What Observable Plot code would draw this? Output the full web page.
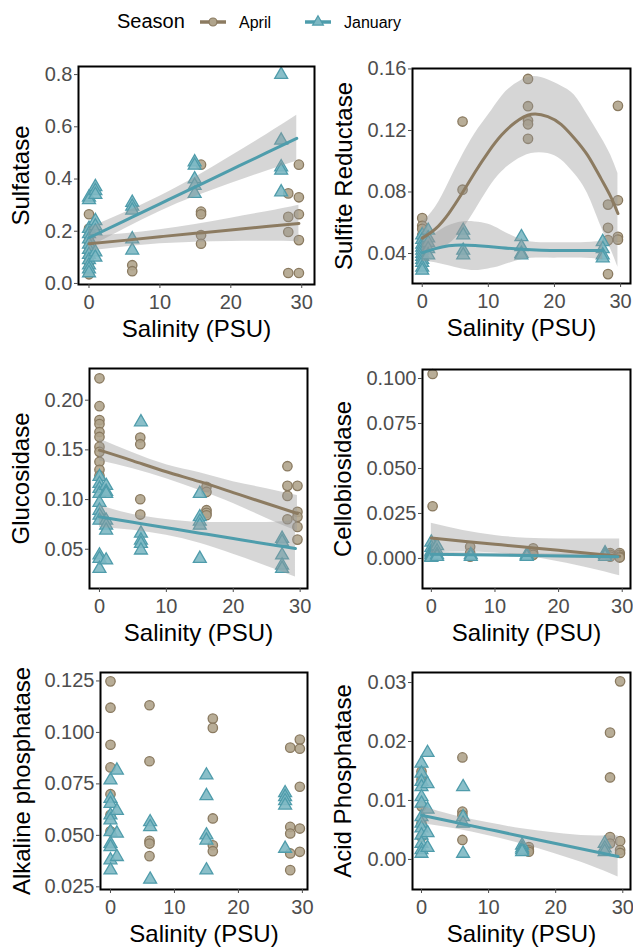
<!DOCTYPE html>
<html>
<head>
<meta charset="utf-8">
<script src="https://cdn.jsdelivr.net/npm/d3@7"></script>
<script src="https://cdn.jsdelivr.net/npm/@observablehq/plot@0.6"></script>
<style>
  body { margin: 0; background: #fff; }
  #chart { position: relative; width: 633px; height: 949px; background: #fff;
           font-family: "Liberation Sans", Arial, sans-serif; }
  #chart > div { position: absolute; }
</style>
</head>
<body>
<div id="chart"></div>
<script>
// ---- Seasons and colours ----
const seasons = ["April", "January"];
const aprilStroke = "#8A7A60", aprilFill = "#B0A48C", aprilLine = "#8C7B61";
const janStroke = "#4F9CAB", janFill = "#7DB8C3", janLine = "#4E9DAC";

// ---- Axis ticks ----
const salinityTicks = [0, 10, 20, 30];
const sulfataseTicks = [0, 0.2, 0.4, 0.6, 0.8];
const sulfiteTicks = [0.04, 0.08, 0.12, 0.16];
const glucosidaseTicks = [0.05, 0.10, 0.15, 0.20];
const cellobiosidaseTicks = [0, 0.025, 0.05, 0.075, 0.1];
const alkalineTicks = [0.025, 0.05, 0.075, 0.1, 0.125];
const acidTicks = [0, 0.01, 0.02, 0.03];

// ---- Measurements: [salinity, [activities...]] ----
const sulfataseApril = [
  [0, [0.265, 0.21, 0.18, 0.16, 0.14, 0.12, 0.10, 0.08, 0.06, 0.035]],
  [6.1, [0.07, 0.047]],
  [15.8, [0.455, 0.275, 0.265, 0.185, 0.152]],
  [28.1, [0.345, 0.255, 0.197, 0.04]],
  [29.6, [0.455, 0.33, 0.265, 0.166, 0.04]]
];
const sulfataseJanuary = [
  [0, [0.33, 0.32, 0.21, 0.19, 0.17, 0.15, 0.13, 0.11, 0.09, 0.07, 0.055, 0.04]],
  [0.9, [0.37, 0.355, 0.34, 0.24, 0.22, 0.20, 0.12, 0.10]],
  [6.1, [0.31, 0.295, 0.28, 0.17, 0.127]],
  [14.9, [0.465, 0.452, 0.40, 0.375, 0.344]],
  [27.1, [0.80, 0.548, 0.446, 0.433, 0.35]]
];
const sulfiteApril = [
  [0, [0.063, 0.058, 0.056, 0.052, 0.048]],
  [6.1, [0.1258, 0.0815]],
  [16, [0.1535, 0.1358, 0.1265, 0.124, 0.1146]],
  [28.1, [0.0718, 0.0567, 0.0487, 0.0266]],
  [29.6, [0.136, 0.0746, 0.0508, 0.049]]
];
const sulfiteJanuary = [
  [0, [0.052, 0.049, 0.046, 0.044, 0.042, 0.040, 0.038, 0.036, 0.034, 0.031, 0.029]],
  [0.9, [0.055, 0.05, 0.047, 0.043, 0.039]],
  [6.2, [0.055, 0.052, 0.042, 0.039]],
  [15, [0.0508, 0.0443, 0.040, 0.039]],
  [27.3, [0.0476, 0.043, 0.039, 0.037]]
];
const glucosidaseApril = [
  [0, [0.222, 0.194, 0.18, 0.176, 0.168, 0.163, 0.153, 0.148, 0.138, 0.13, 0.124]],
  [6.1, [0.1624, 0.1557, 0.1003, 0.0849]],
  [16, [0.1128, 0.1077, 0.0893, 0.0866, 0.0842]],
  [28.1, [0.1336, 0.1138, 0.1037, 0.0802]],
  [29.6, [0.1138, 0.0876, 0.0826, 0.0725, 0.0597]]
];
const glucosidaseJanuary = [
  [0, [0.123, 0.116, 0.111, 0.106, 0.097, 0.089, 0.084, 0.079, 0.044, 0.0406, 0.0305]],
  [1, [0.114, 0.108, 0.106, 0.079, 0.074, 0.069, 0.039]],
  [6.2, [0.178, 0.066, 0.059, 0.0557, 0.049]],
  [15, [0.106, 0.0825, 0.078, 0.074, 0.0406]],
  [27.3, [0.0607, 0.0574, 0.044, 0.0339, 0.0305]]
];
const cellobiosidaseApril = [
  [0.2, [0.1025, 0.029, 0.008, 0.005, 0.003, 0.002]],
  [6.1, [0.0065, 0.003, 0.001]],
  [16, [0.0056, 0.003, 0.002]],
  [28.1, [0.003, 0.002, 0.001]],
  [29.6, [0.003, 0.002, 0.001, 0.0005]]
];
const cellobiosidaseJanuary = [
  [0, [0.009, 0.006, 0.004, 0.003, 0.002, 0.001, 0.0005]],
  [0.9, [0.007, 0.004, 0.002, 0.001]],
  [6.2, [0.002, 0.001]],
  [15, [0.002, 0.0015, 0.001]],
  [27.3, [0.003, 0.002, 0.001]]
];
const alkalineApril = [
  [0, [0.1248, 0.112, 0.094, 0.083, 0.070, 0.060, 0.052]],
  [6.1, [0.1132, 0.086, 0.0473, 0.046, 0.0399]],
  [16, [0.1067, 0.1022, 0.0582, 0.0452, 0.0423]],
  [28.1, [0.0926, 0.0541, 0.0509, 0.0412, 0.0331]],
  [29.6, [0.0965, 0.0921, 0.0736, 0.0533, 0.042]]
];
const alkalineJanuary = [
  [0, [0.0768, 0.0679, 0.0654, 0.0598, 0.0574, 0.0517, 0.046, 0.0444, 0.038, 0.0331]],
  [1, [0.0816, 0.062, 0.051, 0.0396]],
  [6.2, [0.0565, 0.0541, 0.0286]],
  [15, [0.0792, 0.0692, 0.0501, 0.0476, 0.0331]],
  [27.3, [0.0706, 0.0687, 0.0667, 0.0646, 0.0436]]
];
const acidApril = [
  [0, [0.0149, 0.0135, 0.009, 0.0061, 0.0038]],
  [6.1, [0.0173, 0.0081, 0.0075, 0.0033]],
  [16, [0.0021, 0.0016, 0.0013]],
  [28.1, [0.0215, 0.0139, 0.0038, 0.0027]],
  [29.6, [0.0302, 0.0031, 0.0016, 0.0011]]
];
const acidJanuary = [
  [0, [0.0163, 0.0146, 0.0132, 0.0123, 0.0106, 0.0095, 0.0072, 0.0061, 0.0053, 0.0041, 0.0027, 0.0016, 0.001]],
  [0.9, [0.0181, 0.0128, 0.0085, 0.0045, 0.002]],
  [6.2, [0.0123, 0.0072, 0.0061, 0.001]],
  [15, [0.0024, 0.0019, 0.0016, 0.0013]],
  [27.3, [0.0027, 0.0019, 0.0013]]
];

// ---- Smoothers: [salinity, fit, lower 95%, upper 95%] ----
const sulfataseAprilFit = [
  [0, 0.152, 0.124, 0.180], [5, 0.165, 0.140, 0.190], [10, 0.179, 0.152, 0.206],
  [15, 0.192, 0.158, 0.226], [20, 0.205, 0.161, 0.250], [25, 0.218, 0.162, 0.275],
  [29.6, 0.230, 0.160, 0.300]
];
const sulfataseJanuaryFit = [
  [0, 0.175, 0.138, 0.212], [5, 0.240, 0.209, 0.271], [10, 0.305, 0.276, 0.334],
  [15, 0.370, 0.333, 0.407], [20, 0.435, 0.383, 0.487], [25, 0.500, 0.430, 0.570],
  [29.3, 0.556, 0.468, 0.644]
];
const sulfiteAprilFit = [
  [0, 0.050, 0.040, 0.060], [2, 0.056, 0.042, 0.070], [4, 0.066, 0.046, 0.086],
  [6, 0.079, 0.055, 0.103], [8, 0.093, 0.068, 0.118], [10, 0.106, 0.082, 0.130],
  [12, 0.117, 0.093, 0.142], [14, 0.125, 0.100, 0.150], [16.5, 0.1305, 0.105, 0.155],
  [19, 0.129, 0.105, 0.153], [21, 0.124, 0.101, 0.149], [23, 0.115, 0.092, 0.143],
  [25, 0.104, 0.079, 0.130], [27, 0.089, 0.058, 0.116], [28.5, 0.077, 0.043, 0.104],
  [29.6, 0.066, 0.031, 0.092]
];
const sulfiteJanuaryFit = [
  [0, 0.0405, 0.035, 0.046], [2, 0.0432, 0.034, 0.053], [4, 0.0450, 0.032, 0.058],
  [6, 0.0456, 0.030, 0.0605], [8, 0.0452, 0.029, 0.0605], [10, 0.0445, 0.030, 0.059],
  [12, 0.0437, 0.032, 0.055], [15, 0.0427, 0.036, 0.049], [18, 0.0421, 0.037, 0.047],
  [21, 0.0419, 0.037, 0.047], [24, 0.0419, 0.037, 0.047], [27.3, 0.0420, 0.036, 0.048]
];
const glucosidaseAprilFit = [
  [0, 0.1497, 0.139, 0.161], [5, 0.139, 0.131, 0.147], [10, 0.128, 0.121, 0.135],
  [15, 0.118, 0.109, 0.127], [20, 0.107, 0.096, 0.118], [25, 0.096, 0.081, 0.111],
  [29.6, 0.086, 0.068, 0.104]
];
const glucosidaseJanuaryFit = [
  [0, 0.0826, 0.072, 0.094], [5, 0.0771, 0.069, 0.085], [10, 0.0717, 0.064, 0.080],
  [15, 0.0662, 0.056, 0.077], [20, 0.0608, 0.045, 0.077], [25, 0.0553, 0.033, 0.077],
  [29.3, 0.0507, 0.022, 0.079]
];
const cellobiosidaseAprilFit = [
  [0, 0.0113, 0.0030, 0.0196], [5, 0.0096, 0.0036, 0.0156], [10, 0.0079, 0.0030, 0.0128],
  [15, 0.0062, 0.0012, 0.0112], [20, 0.0045, -0.0018, 0.0108], [25, 0.0028, -0.0056, 0.0108],
  [29.6, 0.0012, -0.0096, 0.0108]
];
const cellobiosidaseJanuaryFit = [
  [0, 0.0024, 0.0012, 0.0036], [15, 0.0017, 0.0008, 0.0026], [29.3, 0.0010, -0.0004, 0.0024]
];
const acidJanuaryFit = [
  [0, 0.0075, 0.0061, 0.0090], [5, 0.0063, 0.0052, 0.0074], [10, 0.0051, 0.0040, 0.0062],
  [15, 0.0039, 0.0026, 0.0052], [20, 0.0027, 0.0009, 0.0045], [25, 0.0015, -0.0010, 0.0040],
  [29.3, 0.0005, -0.0030, 0.0040]
];

// ---- Panel layout ----
const panels = [
  { ylabel: "Sulfatase", april: sulfataseApril, january: sulfataseJanuary,
    aprilFit: sulfataseAprilFit, januaryFit: sulfataseJanuaryFit,
    yTicks: sulfataseTicks, fmt: ".1f", yDomain: [-0.004, 0.831], xDomain: [-1.48, 31.8],
    left: 0, top: 50, width: 316, height: 300, m: [16, 2, 66, 78], titleX: 21 },
  { ylabel: "Sulfite Reductase", april: sulfiteApril, january: sulfiteJanuary,
    aprilFit: sulfiteAprilFit, januaryFit: sulfiteJanuaryFit,
    yTicks: sulfiteTicks, fmt: ".2f", yDomain: [0.0205, 0.1603], xDomain: [-1.47, 31.5],
    left: 316, top: 50, width: 317, height: 300, m: [18, 3, 67, 96], titleX: 28 },
  { ylabel: "Glucosidase", april: glucosidaseApril, january: glucosidaseJanuary,
    aprilFit: glucosidaseAprilFit, januaryFit: glucosidaseJanuaryFit,
    yTicks: glucosidaseTicks, fmt: ".2f", yDomain: [0.0105, 0.2319], xDomain: [-1.49, 31.1],
    left: 0, top: 350, width: 316, height: 300, m: [18, 9, 62, 89], titleX: 21 },
  { ylabel: "Cellobiosidase", april: cellobiosidaseApril, january: cellobiosidaseJanuary,
    aprilFit: cellobiosidaseAprilFit, januaryFit: cellobiosidaseJanuaryFit,
    yTicks: cellobiosidaseTicks, fmt: ".3f", yDomain: [-0.0167, 0.105], xDomain: [-1.39, 31.3],
    left: 316, top: 350, width: 317, height: 300, m: [19, 3, 62, 106], titleX: 27 },
  { ylabel: "Alkaline phosphatase", april: alkalineApril, january: alkalineJanuary,
    aprilFit: null, januaryFit: null,
    yTicks: alkalineTicks, fmt: ".3f", yDomain: [0.0237, 0.1291], xDomain: [-1.56, 30.8],
    left: 0, top: 650, width: 316, height: 299, m: [22, 9, 60, 100], titleX: 22 },
  { ylabel: "Acid Phosphatase", april: acidApril, january: acidJanuary,
    aprilFit: null, januaryFit: acidJanuaryFit,
    yTicks: acidTicks, fmt: ".2f", yDomain: [-0.0051, 0.0317], xDomain: [-1.34, 31.15],
    left: 316, top: 650, width: 317, height: 299, m: [22, 3, 60, 96], titleX: 27 }
];

const toPoints = (groups) => groups.flatMap(([x, ys]) => ys.map((y) => ({x, y})));
const toFit = (rows) => rows ? rows.map(([x, fit, lo, hi]) => ({x, fit, lo, hi})) : [];

function drawPanel(p) {
  const [mt, mr, mb, ml] = p.m;
  const aprilPts = toPoints(p.april);
  const janPts = toPoints(p.january);
  const aFit = toFit(p.aprilFit);
  const jFit = toFit(p.januaryFit);
  const band = {x: "x", y1: "lo", y2: "hi", fill: "#999999", fillOpacity: 0.4, curve: "natural"};
  return Plot.plot({
    width: p.width, height: p.height,
    marginTop: mt, marginRight: mr, marginBottom: mb, marginLeft: ml,
    style: {fontFamily: '"Liberation Sans", Arial, sans-serif', background: "transparent", overflow: "visible"},
    x: {domain: p.xDomain},
    y: {domain: p.yDomain},
    marks: [
      Plot.dot(aprilPts, {x: "x", y: "y", r: 4.7, symbol: "circle", fill: aprilFill, fillOpacity: 0.9,
                          stroke: aprilStroke, strokeWidth: 1.3}),
      Plot.dot(janPts, {x: "x", y: "y", r: 4.8, symbol: "triangle", fill: janFill, fillOpacity: 0.9,
                        stroke: janStroke, strokeWidth: 1.3}),
      Plot.areaY(aFit, band),
      Plot.areaY(jFit, band),
      Plot.line(aFit, {x: "x", y: "fit", stroke: aprilLine, strokeWidth: 3, curve: "natural"}),
      Plot.line(jFit, {x: "x", y: "fit", stroke: janLine, strokeWidth: 3, curve: "natural"}),
      Plot.frame({stroke: "black", strokeWidth: 2}),
      Plot.axisX(salinityTicks, {tickSize: 4, tickPadding: 6, fontSize: 20, color: "#4D4D4D", label: null}),
      Plot.axisY(p.yTicks, {tickSize: 4, tickPadding: 2, fontSize: 20, color: "#4D4D4D",
                            tickFormat: d3.format(p.fmt), label: null}),
      Plot.text([p.ylabel], {text: (d) => d, frameAnchor: "left", dx: p.titleX - ml, rotate: -90,
                             textAnchor: "middle", lineAnchor: "middle", fontSize: 24, fill: "black"}),
      Plot.text(["Salinity (PSU)"], {text: (d) => d, frameAnchor: "bottom", dy: 45,
                                     textAnchor: "middle", lineAnchor: "middle", fontSize: 24, fill: "black"})
    ]
  });
}

const root = document.getElementById("chart");

// Legend across the top
const legend = d3.create("svg").attr("width", 633).attr("height", 46)
  .attr("font-family", '"Liberation Sans", Arial, sans-serif');
legend.append("text").attr("x", 117).attr("y", 21).attr("dy", "0.35em")
  .attr("font-size", 20).attr("fill", "black").text("Season");
const legendKeys = [
  {label: seasons[0], x: 200, line: aprilLine, fill: aprilFill, stroke: aprilStroke, symbol: d3.symbolCircle},
  {label: seasons[1], x: 305, line: janLine, fill: janFill, stroke: janStroke, symbol: d3.symbolTriangle}
];
for (const k of legendKeys) {
  legend.append("line").attr("x1", k.x).attr("x2", k.x + 26).attr("y1", 22).attr("y2", 22)
    .attr("stroke", k.line).attr("stroke-width", 3.5);
  legend.append("path").attr("d", d3.symbol(k.symbol, 50)())
    .attr("transform", `translate(${k.x + 13},22)`)
    .attr("fill", k.fill).attr("stroke", k.stroke).attr("stroke-width", 1.2);
  legend.append("text").attr("x", k.x + 39).attr("y", 22).attr("dy", "0.35em")
    .attr("font-size", 16).attr("fill", "black").text(k.label);
}
const legendDiv = document.createElement("div");
legendDiv.style.left = "0px"; legendDiv.style.top = "0px";
legendDiv.appendChild(legend.node());
root.appendChild(legendDiv);

for (const p of panels) {
  const div = document.createElement("div");
  div.style.left = p.left + "px";
  div.style.top = p.top + "px";
  div.style.width = p.width + "px";
  div.style.height = p.height + "px";
  div.appendChild(drawPanel(p));
  root.appendChild(div);
}
</script>
</body>
</html>
